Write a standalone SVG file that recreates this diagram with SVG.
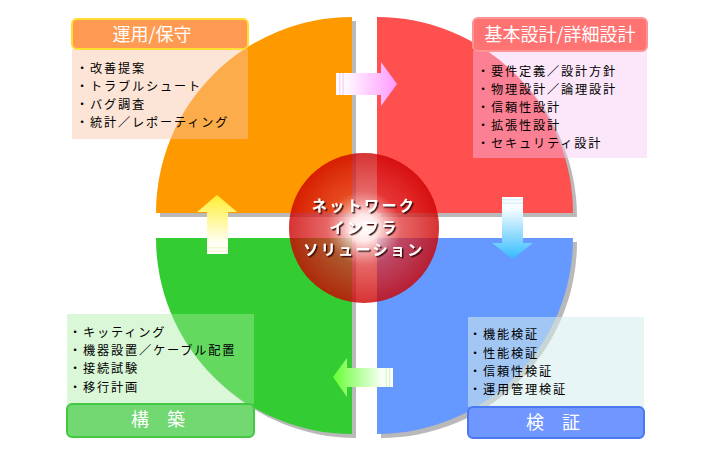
<svg xmlns="http://www.w3.org/2000/svg" width="710" height="450" viewBox="0 0 710 450">
<defs>
<style>
.shadow{fill:#b9b9b9}
.item{font-family:"Noto Sans CJK JP","Noto Sans",sans-serif;font-size:12.2px;letter-spacing:1.8px;fill:#000}
.title{font-family:"Noto Sans CJK JP","Noto Sans",sans-serif;font-size:18px;fill:#fff;text-anchor:middle}
.center{font-family:"Noto Sans CJK JP","Noto Sans",sans-serif;font-size:15px;letter-spacing:2.4px;font-weight:bold;fill:#fff;text-anchor:middle}
</style>
<radialGradient id="gCircle" cx="364" cy="228" r="75" gradientUnits="userSpaceOnUse">
<stop offset="0" stop-color="#ffffff" stop-opacity="1"/>
<stop offset="0.18" stop-color="#ffe6e6" stop-opacity="0.9"/>
<stop offset="0.5" stop-color="#dd2a2a" stop-opacity="0.72"/>
<stop offset="1" stop-color="#cc0000" stop-opacity="0.8"/>
</radialGradient>
<linearGradient id="gRight" x1="336" y1="0" x2="397" y2="0" gradientUnits="userSpaceOnUse">
<stop offset="0" stop-color="#ffffff"/>
<stop offset="0.2" stop-color="#fff4ff"/>
<stop offset="1" stop-color="#ff99ff"/>
</linearGradient>
<linearGradient id="gDown" x1="0" y1="197" x2="0" y2="259" gradientUnits="userSpaceOnUse">
<stop offset="0" stop-color="#ffffff"/>
<stop offset="0.2" stop-color="#f4fcff"/>
<stop offset="1" stop-color="#33bbff"/>
</linearGradient>
<linearGradient id="gLeft" x1="393" y1="0" x2="333" y2="0" gradientUnits="userSpaceOnUse">
<stop offset="0" stop-color="#ffffff"/>
<stop offset="0.2" stop-color="#f6fff2"/>
<stop offset="1" stop-color="#66ff33"/>
</linearGradient>
<linearGradient id="gUp" x1="0" y1="254" x2="0" y2="195" gradientUnits="userSpaceOnUse">
<stop offset="0" stop-color="#ffffff"/>
<stop offset="0.2" stop-color="#fffff4"/>
<stop offset="1" stop-color="#ffee33"/>
</linearGradient>
<filter id="ts" x="-10%" y="-30%" width="120%" height="160%">
<feDropShadow dx="1.5" dy="1.5" stdDeviation="0.6" flood-color="#300000" flood-opacity="0.9"/>
</filter>
</defs>

<g id="quadrants">
<path class="shadow" d="M356,217 L356,21 A196,196 0 0 0 160,217 Z"/>
<path class="shadow" d="M381,217 L381,21 A196,196 0 0 1 577,217 Z"/>
<path class="shadow" d="M356,242 L160,242 A196,196 0 0 0 356,438 Z"/>
<path class="shadow" d="M381,242 L577,242 A196,196 0 0 1 381,438 Z"/>
<path id="q-ops" fill="#ff9900" d="M352,213 L352,17 A196,196 0 0 0 156,213 Z"/>
<path id="q-design" fill="#ff5050" d="M377,213 L377,17 A196,196 0 0 1 573,213 Z"/>
<path id="q-build" fill="#33cc33" d="M352,238 L156,238 A196,196 0 0 0 352,434 Z"/>
<path id="q-verify" fill="#6699ff" d="M377,238 L573,238 A196,196 0 0 1 377,434 Z"/>
</g>

<g id="connectors">
<g id="arrow-right">
<polygon fill="url(#gRight)" points="336,73 381,73 381,62 397,84 381,106 381,95 336,95"/>
<line x1="339.8" y1="73" x2="339.8" y2="95" stroke="#f6c8f6" stroke-width="1"/>
<line x1="343.2" y1="73" x2="343.2" y2="95" stroke="#f6c8f6" stroke-width="1"/>
</g>
<g id="arrow-down">
<polygon fill="url(#gDown)" points="502,197 523,197 523,243 533,243 512.5,259 492,243 502,243"/>
<line x1="502" y1="199.8" x2="523" y2="199.8" stroke="#c8ecfa" stroke-width="1"/>
<line x1="502" y1="203" x2="523" y2="203" stroke="#c8ecfa" stroke-width="1"/>
</g>
<g id="arrow-left">
<polygon fill="url(#gLeft)" points="333,377 347,358 347,368 393,368 393,387 347,387 347,397"/>
<line x1="386.2" y1="368" x2="386.2" y2="387" stroke="#cdf5c0" stroke-width="1"/>
<line x1="389.6" y1="368" x2="389.6" y2="387" stroke="#cdf5c0" stroke-width="1"/>
</g>
<g id="arrow-up">
<polygon fill="url(#gUp)" points="217,195 237,212 228,212 228,254 207,254 207,212 197,212"/>
<line x1="207" y1="247.8" x2="228" y2="247.8" stroke="#f4f0c0" stroke-width="1"/>
<line x1="207" y1="251" x2="228" y2="251" stroke="#f4f0c0" stroke-width="1"/>
</g>
</g>

<g id="hub">
<circle cx="364" cy="228" r="75" fill="url(#gCircle)"/>
<g filter="url(#ts)">
<text class="center" x="364" y="211">ネットワーク</text>
<text class="center" x="364" y="233">インフラ</text>
<text class="center" x="364" y="255">ソリューション</text>
</g>
</g>

<g id="node-ops">
<rect x="72" y="49" width="176" height="90" fill="#f8c4a4" fill-opacity="0.45"/>
<rect x="72" y="19" width="176" height="30" rx="5" fill="#ff9a52" stroke="#ffdd33" stroke-width="2"/>
<text class="title" x="152" y="41">運用/保守</text>
<text class="item" x="76" y="73">・改善提案</text>
<text class="item" x="76" y="91">・トラブルシュート</text>
<text class="item" x="76" y="108.7">・バグ調査</text>
<text class="item" x="76" y="126.5">・統計／レポーティング</text>
</g>

<g id="node-design">
<rect x="473" y="51" width="174" height="107" fill="#f8c4f0" fill-opacity="0.42"/>
<rect x="473" y="18" width="174" height="33" rx="5" fill="#ff7373" stroke="#ff9494" stroke-width="2"/>
<text class="title" x="560" y="41">基本設計/詳細設計</text>
<text class="item" x="477" y="75.5">・要件定義／設計方針</text>
<text class="item" x="477" y="93.5">・物理設計／論理設計</text>
<text class="item" x="477" y="111.5">・信頼性設計</text>
<text class="item" x="477" y="129.5">・拡張性設計</text>
<text class="item" x="477" y="147.5">・セキュリティ設計</text>
</g>

<g id="node-build">
<rect x="67" y="314" width="187" height="90" fill="#a8eca0" fill-opacity="0.42"/>
<rect x="67" y="404" width="187" height="33" rx="5" fill="#72d872" stroke="#44c844" stroke-width="2"/>
<text class="title" x="158" y="426">構　築</text>
<text class="item" x="69" y="336.7">・キッティング</text>
<text class="item" x="69" y="355">・機器設置／ケーブル配置</text>
<text class="item" x="69" y="373.3">・接続試験</text>
<text class="item" x="69" y="391.7">・移行計画</text>
</g>

<g id="node-verify">
<rect x="468" y="317" width="176" height="90" fill="#d6ecec" fill-opacity="0.55"/>
<rect x="468" y="407" width="176" height="31" rx="5" fill="#7096ff" stroke="#4a78f0" stroke-width="2"/>
<text class="title" x="553" y="429">検　証</text>
<text class="item" x="469" y="339.3">・機能検証</text>
<text class="item" x="469" y="357.7">・性能検証</text>
<text class="item" x="469" y="376">・信頼性検証</text>
<text class="item" x="469" y="394.3">・運用管理検証</text>
</g>
</svg>
